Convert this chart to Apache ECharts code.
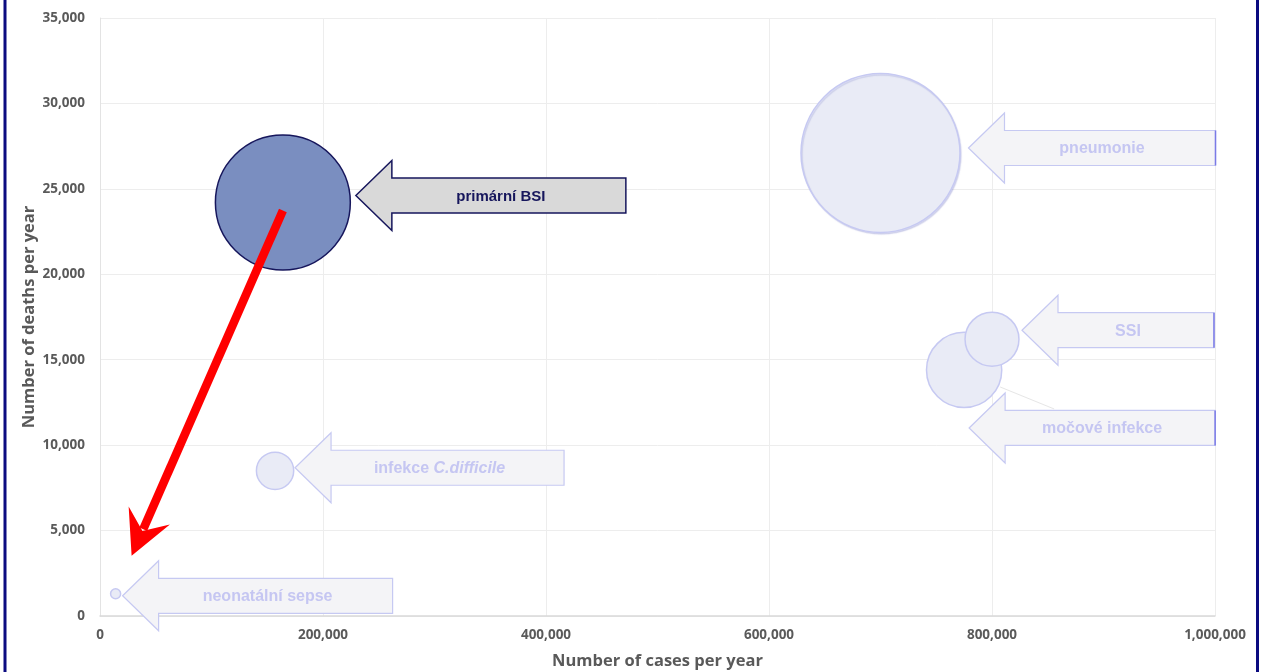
<!DOCTYPE html>
<html>
<head>
<meta charset="utf-8">
<script src="https://cdn.jsdelivr.net/npm/echarts@6/dist/echarts.min.js"></script>
<style>
  html, body { margin: 0; padding: 0; background: #ffffff; }
  #chart { width: 1267px; height: 672px; }
</style>
</head>
<body>
<div id="chart"></div>
<script>
// Healthcare-associated infections: yearly cases vs. yearly deaths
const infections = ['primární BSI', 'pneumonie', 'močové infekce', 'SSI', 'infekce C.difficile', 'neonatální sepse'];
const casesPerYear = [164000, 700000, 775000, 800000, 157000, 14000];
const deathsPerYear = [24200, 27100, 14400, 16200, 8500, 1300];
// relative burden shown as bubble area (pneumonie = 100)
const relativeBurden = [72, 100, 22.4, 11.5, 5.5, 0.4];

const xAxisMax = 1000000, xAxisStep = 200000;
const yAxisMax = 35000, yAxisStep = 5000;

const highlighted = 0;      // the infection drawn in full colour
const pointerTarget = 5;    // the infection the red pointer leads to
const leaderFrom = 2;       // bubble with a thin leader line

// callout arrow placement, in pixels relative to each bubble centre
const calloutLayout = [
  { dx: 73, dy: -7, length: 270, edge: false },
  { dx: 88, dy: -5, length: 247, edge: true },
  { dx: 5, dy: 58, length: 246, edge: true },
  { dx: 30, dy: -9, length: 192, edge: true },
  { dx: 20, dy: -3, length: 269, edge: false },
  { dx: 7, dy: 2, length: 270, edge: false }
];

const points = casesPerYear.map((c, i) => [c, deathsPerYear[i], relativeBurden[i]]);

const strong = { fill: '#7a8ec0', stroke: '#16165c', arrowFill: '#d9d9d9', text: '#16165c' };
const faint = { fill: '#e9ebf6', stroke: '#c6c9f2', arrowFill: '#f4f4f7', text: '#c5c6f2' };
const labelFont = 'Liberation Sans, Arial, sans-serif';
const axisFont = 'Open Sans, sans-serif';

const chart = echarts.init(document.getElementById('chart'));

function renderCallout(params, api) {
  const i = params.dataIndex;
  const c = api.coord([api.value(0), api.value(1)]);
  const L = calloutLayout[i];
  const colors = i === highlighted ? strong : faint;
  const tx = c[0] + L.dx, ty = c[1] + L.dy;
  const head = 36, headH = 35, bodyH = 17.5;
  const ex = tx + L.length;
  const pts = [
    [tx, ty], [tx + head, ty - headH], [tx + head, ty - bodyH], [ex, ty - bodyH],
    [ex, ty + bodyH], [tx + head, ty + bodyH], [tx + head, ty + headH]
  ];
  const name = infections[i];
  const textStyle = {
    x: (tx + head + ex) / 2 - 8,
    y: ty + 1,
    align: 'center',
    verticalAlign: 'middle',
    fontSize: i === highlighted ? 15 : 16,
    fontWeight: 'bold',
    fontFamily: labelFont,
    fill: colors.text
  };
  if (name.indexOf('C.difficile') >= 0) {
    textStyle.text = '{n|' + name.replace('C.difficile', '') + '}{i|C.difficile}';
    textStyle.rich = {
      n: { fontSize: 16, fontWeight: 'bold', fill: colors.text, fontFamily: labelFont },
      i: { fontSize: 16, fontWeight: 'bold', fontStyle: 'italic', fill: colors.text, fontFamily: labelFont }
    };
  } else {
    textStyle.text = name;
  }
  const children = [
    {
      type: 'polygon',
      shape: { points: pts },
      style: { fill: colors.arrowFill, stroke: colors.stroke, lineWidth: i === highlighted ? 1.5 : 1.2 }
    },
    { type: 'text', style: textStyle }
  ];
  if (L.edge) {
    children.push({
      type: 'line',
      shape: { x1: ex, y1: ty - bodyH, x2: ex, y2: ty + bodyH },
      style: { stroke: '#7a7ae6', lineWidth: 1.5 }
    });
  }
  return { type: 'group', children };
}

chart.setOption({
  animation: false,
  backgroundColor: '#ffffff',
  grid: { left: 100, right: 52, top: 18, bottom: 56, containLabel: false, outerBoundsMode: 'none' },
  xAxis: {
    type: 'value',
    min: 0, max: xAxisMax, interval: xAxisStep,
    name: 'Number of cases per year',
    nameLocation: 'middle',
    nameGap: 37,
    nameMoveOverlap: false,
    nameTextStyle: { color: '#595959', fontSize: 16.5, fontWeight: 'bold', fontFamily: axisFont },
    axisLine: { show: true, lineStyle: { color: '#d9d9d9', width: 1.5 } },
    axisTick: { show: false },
    axisLabel: {
      margin: 12, color: '#5a5a5a', fontSize: 13.5, fontWeight: 'bold', fontFamily: axisFont,
      formatter: v => v.toLocaleString('en-US')
    },
    splitLine: { show: true, lineStyle: { color: '#ededed', width: 1 } }
  },
  yAxis: {
    type: 'value',
    min: 0, max: yAxisMax, interval: yAxisStep,
    name: 'Number of deaths per year',
    nameLocation: 'middle',
    nameGap: 62,
    nameRotate: 90,
    nameMoveOverlap: false,
    nameTextStyle: { color: '#595959', fontSize: 16.5, fontWeight: 'bold', fontFamily: axisFont },
    axisLine: { show: true, lineStyle: { color: '#e3e3e3', width: 1 } },
    axisTick: { show: false },
    axisLabel: {
      margin: 15, color: '#5a5a5a', fontSize: 13.5, fontWeight: 'bold', fontFamily: axisFont,
      formatter: v => v.toLocaleString('en-US')
    },
    splitLine: { show: true, lineStyle: { color: '#ededed', width: 1 } }
  },
  series: [
    {
      type: 'scatter',
      name: 'infekce',
      z: 2,
      data: points.map((p, i) => ({
        value: p,
        itemStyle: i === highlighted
          ? { color: strong.fill, borderColor: strong.stroke, borderWidth: 1.5, opacity: 1 }
          : (i === 1
            ? { color: faint.fill, borderColor: faint.stroke, borderWidth: 1.5, opacity: 1,
                shadowColor: 'rgba(120,125,200,0.25)', shadowBlur: 1, shadowOffsetX: 1, shadowOffsetY: 1.5 }
            : { color: faint.fill, borderColor: faint.stroke, borderWidth: 1.5, opacity: 1 })
      })),
      symbol: 'circle',
      symbolSize: v => 15.9 * Math.sqrt(v[2])
    },
    {
      type: 'custom',
      name: 'popisky',
      z: 3,
      clip: false,
      data: points,
      renderItem: renderCallout
    }
  ]
});

// red pointer from the highlighted infection down to neonatal sepsis, plus frame
const from = chart.convertToPixel({ seriesIndex: 0 }, [casesPerYear[highlighted], deathsPerYear[highlighted]]);
const to = chart.convertToPixel({ seriesIndex: 0 }, [casesPerYear[pointerTarget], deathsPerYear[pointerTarget]]);
const start = [from[0], from[1] + 8];
const tip = [to[0] + 16, to[1] - 38];
const dxv = start[0] - tip[0], dyv = start[1] - tip[1];
const len = Math.hypot(dxv, dyv);
const u = [dxv / len, dyv / len];        // from tip back toward start
const n = [-u[1], u[0]];
const back = 44, notch = 27, half = 22.5;
const wing1 = [tip[0] + u[0] * back + n[0] * half, tip[1] + u[1] * back + n[1] * half];
const wing2 = [tip[0] + u[0] * back - n[0] * half, tip[1] + u[1] * back - n[1] * half];
const notchPt = [tip[0] + u[0] * notch, tip[1] + u[1] * notch];

const leader = chart.convertToPixel({ seriesIndex: 0 }, [casesPerYear[leaderFrom], deathsPerYear[leaderFrom]]);

chart.setOption({
  graphic: [
    {
      type: 'line', z: 5,
      shape: { x1: leader[0] + 36, y1: leader[1] + 17, x2: leader[0] + 90, y2: leader[1] + 39 },
      style: { stroke: '#e6e6e6', lineWidth: 1 }
    },
    {
      type: 'line', z: 10,
      shape: { x1: start[0], y1: start[1], x2: notchPt[0] + u[0] * 2, y2: notchPt[1] + u[1] * 2 },
      style: { stroke: '#ff0000', lineWidth: 8.5 }
    },
    {
      type: 'polygon', z: 10,
      shape: { points: [tip, wing1, notchPt, wing2] },
      style: { fill: '#ff0000' }
    },
    {
      type: 'rect', z: 20,
      shape: { x: 5, y: -10, width: 1252.5, height: 700 },
      style: { fill: 'none', stroke: '#0b0b80', lineWidth: 3 }
    }
  ]
});
</script>
</body>
</html>
